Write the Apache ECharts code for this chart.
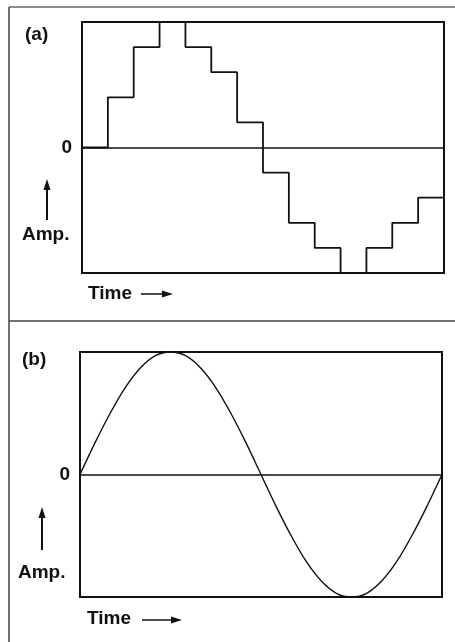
<!DOCTYPE html>
<html>
<head>
<meta charset="utf-8">
<script src="https://cdn.jsdelivr.net/npm/echarts@6/dist/echarts.min.js"></script>
<style>html,body{margin:0;padding:0;background:#fff;}#c{width:455px;height:642px;}</style>
</head>
<body>
<div id="c"></div>
<script>
// Panel (a): quantized (stepped) waveform, one level per time slot (levels in units of 1/5 of full amplitude)
var stepTimes = [0,1,2,3,4,5,6,7,8,9,10,11,12,13,14];
var stepLevels = [0,2,4,5,4,3,1,-1,-3,-4,-5,-4,-3,-2,-2];
// Panel (b): continuous waveform
var sineTimes = [0,1,2,3,4,5,6,7,8,9,10,11,12,13,14,15,16,17,18,19,20,21,22,23,24];
var sineValues = [0,0.26,0.5,0.71,0.87,0.97,1,0.97,0.87,0.71,0.5,0.26,0,-0.26,-0.5,-0.71,-0.87,-0.97,-1,-0.97,-0.87,-0.71,-0.5,-0.26,0];
var yTickLabels = {'0':'0'};

var stepData = stepTimes.map(function(t,i){return [t, stepLevels[i]];});
var sineData = sineTimes.map(function(t,i){return [t, sineValues[i]];});

var FONT = 'bold 19px "Liberation Sans", Arial, sans-serif';
function txt(s, x, y){
  return {type:'text', style:{text:s, x:x, y:y, font:FONT, fill:'#111', textVerticalAlign:'middle', verticalAlign:'middle'}};
}
function upArrow(x, tip, bottom){
  return [
    {type:'line', shape:{x1:x, y1:tip+8, x2:x, y2:bottom}, style:{stroke:'#111', lineWidth:2}},
    {type:'polygon', shape:{points:[[x,tip],[x-3.5,tip+11],[x+3.5,tip+11]]}, style:{fill:'#111'}}
  ];
}
function rightArrow(x1, x2, y){
  return [
    {type:'line', shape:{x1:x1, y1:y, x2:x2-8, y2:y}, style:{stroke:'#111', lineWidth:1.5}},
    {type:'polygon', shape:{points:[[x2,y],[x2-11,y-3.5],[x2-11,y+3.5]]}, style:{fill:'#111'}}
  ];
}

var chart = echarts.init(document.getElementById('c'), null, {renderer:'canvas'});
var yLabel = {show:true, margin:10, fontSize:19, fontWeight:'bold', color:'#111', fontFamily:'"Liberation Sans", Arial, sans-serif',
  formatter:function(v){ return yTickLabels[String(v)] || ''; }};
var graphics = [
  {type:'line', shape:{x1:9, y1:7, x2:455, y2:7}, style:{stroke:'#666', lineWidth:1.5}},
  {type:'line', shape:{x1:9, y1:7, x2:9, y2:642}, style:{stroke:'#444', lineWidth:1.5}},
  {type:'line', shape:{x1:9, y1:321, x2:455, y2:321}, style:{stroke:'#444', lineWidth:1.5}},
  txt('(a)', 25, 35), txt('Amp.', 22, 235), txt('Time', 88, 294),
  txt('(b)', 22, 360), txt('Amp.', 18, 573), txt('Time', 87, 619)
].concat(upArrow(47, 179, 220), rightArrow(141, 173, 294), upArrow(42, 507, 550), rightArrow(142, 182, 620));

chart.setOption({
  animation:false,
  backgroundColor:'#fff',
  grid:[
    {left:82, top:22, width:362, height:251, show:true, borderColor:'#111', borderWidth:2, backgroundColor:'transparent'},
    {left:80, top:352, width:362, height:245, show:true, borderColor:'#111', borderWidth:2, backgroundColor:'transparent'}
  ],
  xAxis:[
    {type:'value', gridIndex:0, min:0, max:14, axisLine:{show:true, onZero:true, lineStyle:{color:'#111', width:1.5}}, axisTick:{show:false}, axisLabel:{show:false}, splitLine:{show:false}},
    {type:'value', gridIndex:1, min:0, max:24, axisLine:{show:true, onZero:true, lineStyle:{color:'#111', width:1.5}}, axisTick:{show:false}, axisLabel:{show:false}, splitLine:{show:false}}
  ],
  yAxis:[
    {type:'value', gridIndex:0, min:-5, max:5, interval:5, axisLine:{show:false}, axisTick:{show:false}, splitLine:{show:false}, axisLabel:yLabel},
    {type:'value', gridIndex:1, min:-1, max:1, interval:1, axisLine:{show:false}, axisTick:{show:false}, splitLine:{show:false}, axisLabel:yLabel}
  ],
  series:[
    {type:'line', xAxisIndex:0, yAxisIndex:0, data:stepData, step:'end', showSymbol:false, symbol:'none', lineStyle:{color:'#111', width:1.8}},
    {type:'line', xAxisIndex:1, yAxisIndex:1, data:sineData, smooth:0.3, showSymbol:false, symbol:'none', lineStyle:{color:'#111', width:1.4}}
  ],
  graphic:graphics
});
</script>
</body>
</html>
